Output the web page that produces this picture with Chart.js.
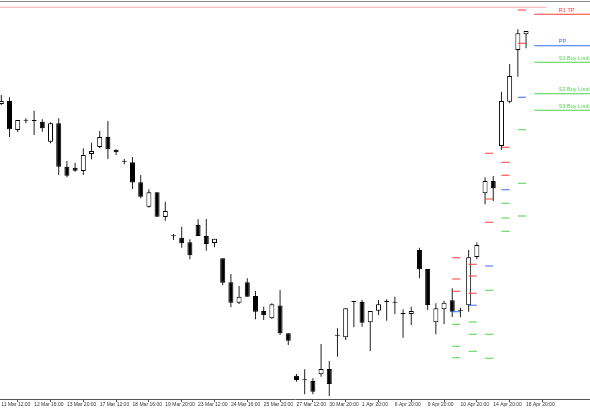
<!DOCTYPE html>
<html><head><meta charset="utf-8">
<script src="https://cdn.jsdelivr.net/npm/chart.js@4.4.0/dist/chart.umd.min.js"></script>
<style>html,body{margin:0;padding:0;background:#fff;}canvas{display:block;}</style>
</head><body>
<canvas id="c" width="590" height="410"></canvas>
<script>
// ---- data (price units, no price scale shown in the original) ----
const dateLabels = ['11 Mar 12:00','12 Mar 16:00','13 Mar 20:00','17 Mar 12:00','18 Mar 16:00','19 Mar 20:00','23 Mar 12:00','24 Mar 16:00','25 Mar 20:00','27 Mar 12:00','30 Mar 20:00','1 Apr 20:00','6 Apr 20:00','9 Apr 20:00','10 Apr 20:00','14 Apr 20:00','16 Apr 20:00'];
const barsPerLabel = 4;

const opens  = [295,298,269,278.3,278,277.3,257.3,275.7,232.3,231.3,228,245,252,262,249.3,237.3,236.7,216.7,192.3,206.7,182,162.7,161.3,156.7,174,163,156,140.7,116.7,96.3,116.7,103,88,80.7,93.5,65.7,23.3,18.7,18,24.7,30,63.3,61.7,97,97,76.7,88.3,97,96.3,85,85,149,130,76.7,89.7,98.7,88.3,93.7,142,205.7,218,253,297.3,349,364.7];
const highs  = [304,301.7,279,280.7,288.3,279.7,276.7,280.7,238,236.3,250.7,256.3,268,278,249.7,240,242,224,209.7,206.7,197.3,165,172.3,159.7,179.7,180,160.3,140.7,125,113,120.7,108,92.3,95.7,109,65.7,25,29.7,20.7,55,38,70.7,90.7,97,99,88,99,99.7,102.3,89.7,92.3,151.3,130,95.7,98.3,110.7,91.3,149,156.5,221.7,223,307.3,335,369.7,368];
const lows   = [294,262,267,275.7,264,267.3,255.7,224,221.7,227.3,224,239.7,250.7,240,244,234.7,210,200.7,191.3,182.3,178.3,159,151.3,139.7,163,148.3,151.7,113.7,91.7,95,102.3,79.7,79,80,64,54,17.3,4.7,4.7,22.3,3,42.3,59,71.7,72.3,48,84,78.3,85,61.3,74,120.7,89,64.7,75,82,81.7,87.3,139.7,194.7,198,249,295.7,322.3,350.7];
const closes = [298,269.7,279,278.3,278,270.7,275.7,232.3,223.3,228.3,244,248,262,249.7,246.7,237.3,216.5,202.3,206.7,182.3,188,162.7,155.7,143.7,163,155,160.3,116.3,96.3,102.3,102.3,87.3,84,94.7,65.7,58.3,19,18.7,7.3,30,15,63.3,90.7,97,76.3,88,94.7,97,96.3,85,88,129.7,94,90.7,96.3,87.3,88.3,141.7,154,218,210.7,298,323,365.7,368];

// daily pivot levels, one value per pivot column (bar index where the column starts)
const pivotCols = [55, 57, 59, 61, 63];
const pivotR3 = [141.3, 134.7, 245.7, 251.7, null];
const pivotR2 = [120, 123, 200, 236.7, 389];
const pivotR1 = [107.7, 105.7, 176.7, 223.7, 355.7];
const pivotPP = [87.3, 93.7, 133, 209.3, 301.7];
const pivotS1 = [74.7, 77, 108.7, 195.7, 269.3];
const pivotS2 = [52.7, 64.7, 64.7, 181, 215.7];
const pivotS3 = [41.3, 47.7, 40.7, 167.7, 183];

// current trade levels shown on the right
const levelNames  = ['R1 TP', 'PP', 'S1 Buy Limit', 'S2 Buy Limit', 'S3 Buy Limit'];
const levelValues = [384.7, 353.3, 336.7, 305.3, 288.7];
const levelKinds  = ['r', 'p', 's', 's', 's'];
const levelFromBar = 65;

const topLineValue = 391.7;
const topLineToBar = 66.5;

// ---- view / style ----
const X_MIN = -0.16, X_MAX = 71.8, Y_MIN = 0, Y_MAX = 399;
const LABEL_X = 68;
const COL = { r: '#ff3b3b', p: '#3a6ff0', s: '#4fd04f' };

const bodies = opens.map((o, i) => ({ x: i, y: [o, closes[i]] }));
const wicks  = highs.map((h, i) => ({ x: i, y: [lows[i], h] }));
const bodyFill = opens.map((o, i) => closes[i] > o ? '#ffffff' : '#000000');

function dashData(levelArrays) {
  const out = [];
  levelArrays.forEach(arr => arr.forEach((v, k) => {
    if (v == null) return;
    const s = pivotCols[k];
    out.push({ x: s, y: v }, { x: s + 1, y: v }, { x: s + 1, y: null });
  }));
  return out;
}
function levelData(kind) {
  const out = [];
  levelValues.forEach((v, i) => {
    if (levelKinds[i] !== kind) return;
    out.push({ x: levelFromBar, y: v }, { x: X_MAX + 1, y: v }, { x: X_MAX + 1, y: null });
  });
  return out;
}
const lineDs = (data, color, order) => ({
  type: 'line', data, borderColor: color, borderWidth: 1.1, pointRadius: 0,
  spanGaps: false, tension: 0, order, fill: false
});

const overlay = {
  id: 'overlay',
  afterDatasetsDraw(chart) {
    const { ctx, chartArea, scales: { x, y } } = chart;
    ctx.save();
    ctx.strokeStyle = '#8a8a8a';
    ctx.lineWidth = 1;
    ctx.beginPath();
    ctx.moveTo(chartArea.left, chartArea.top + 1.5);
    ctx.lineTo(chartArea.right, chartArea.top + 1.5);
    ctx.stroke();
    ctx.font = '5.5px "Liberation Sans", Arial, sans-serif';
    ctx.textAlign = 'left';
    ctx.textBaseline = 'bottom';
    levelNames.forEach((n, i) => {
      ctx.fillStyle = COL[levelKinds[i]];
      ctx.fillText(n, x.getPixelForValue(LABEL_X), y.getPixelForValue(levelValues[i]) - 1.5);
    });
    ctx.restore();
  }
};

new Chart(document.getElementById('c'), {
  type: 'bar',
  data: {
    datasets: [
      lineDs([{ x: X_MIN - 1, y: topLineValue }, { x: topLineToBar, y: topLineValue }], '#f3a8a8', 0),
      lineDs(dashData([pivotR3, pivotR2, pivotR1]).concat(levelData('r')), COL.r, 0),
      lineDs(dashData([pivotPP]).concat(levelData('p')), COL.p, 0),
      lineDs(dashData([pivotS1, pivotS2, pivotS3]).concat(levelData('s')), COL.s, 0),
      { type: 'bar', data: bodies, backgroundColor: bodyFill, borderColor: '#000', borderWidth: 1,
        borderSkipped: false, barThickness: 5, minBarLength: 1, grouped: false, inflateAmount: 0, order: 1 },
      { type: 'bar', data: wicks, backgroundColor: '#222', borderWidth: 0,
        barThickness: 1, grouped: false, inflateAmount: 0, order: 2 }
    ]
  },
  plugins: [overlay],
  options: {
    responsive: false,
    devicePixelRatio: 1,
    animation: false,
    layout: { padding: 0 },
    plugins: { legend: { display: false }, tooltip: { enabled: false } },
    scales: {
      x: {
        type: 'linear', min: X_MIN, max: X_MAX, offset: false,
        grid: { drawOnChartArea: false, drawTicks: true, tickLength: 3, color: '#555' },
        border: { display: true, color: '#555', width: 1 },
        ticks: {
          autoSkip: false, maxRotation: 0, minRotation: 0, align: 'start', padding: 0,
          color: '#333', font: { family: 'Liberation Sans', size: 5 },
          callback: (v, i) => dateLabels[i] ?? ''
        },
        afterBuildTicks: s => { s.ticks = dateLabels.map((_, k) => ({ value: k * barsPerLabel })); },
        afterFit: s => { s.height = 11; }
      },
      y: { type: 'linear', min: Y_MIN, max: Y_MAX, display: false }
    }
  }
});
</script>
</body></html>
